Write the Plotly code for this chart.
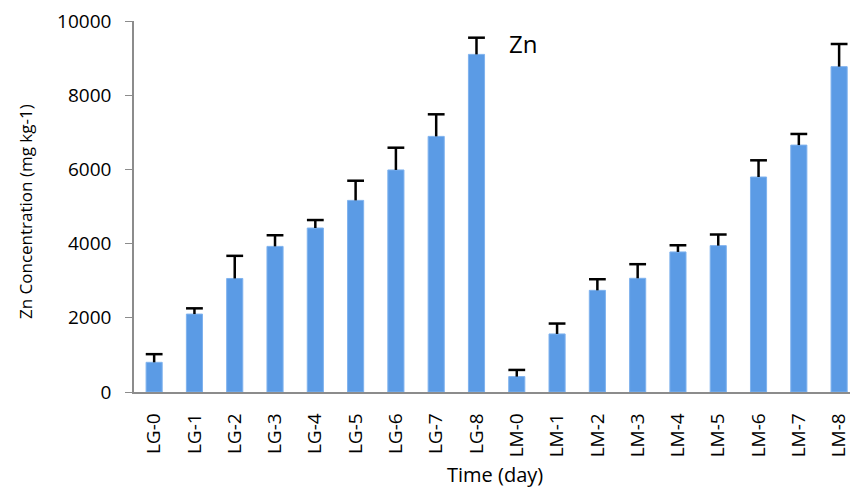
import plotly.graph_objects as go

categories = ["LG-0", "LG-1", "LG-2", "LG-3", "LG-4", "LG-5", "LG-6", "LG-7", "LG-8",
              "LM-0", "LM-1", "LM-2", "LM-3", "LM-4", "LM-5", "LM-6", "LM-7", "LM-8"]
zn_values = [800, 2100, 3060, 3925, 4420, 5165, 5985, 6890, 9100,
             415, 1565, 2740, 3065, 3775, 3945, 5795, 6655, 8770]
zn_errors = [220, 155, 610, 300, 215, 530, 600, 595, 450,
             180, 280, 300, 380, 180, 300, 450, 300, 610]
y_ticks = [0, 2000, 4000, 6000, 8000, 10000]

font_family = "Open Sans, Liberation Sans, sans-serif"

L, R, T, B = 134, 850, 21, 392
W, H = 850, 489

fig = go.Figure()
fig.add_trace(go.Bar(
    x=categories,
    y=zn_values,
    width=0.4,
    marker=dict(color="#5B9BE5", line=dict(color="#7FB2EE", width=1)),
))

# upward-only error bars: stems + caps
stem_x, stem_y = [], []
for c, v, e in zip(categories, zn_values, zn_errors):
    stem_x += [c, c, None]
    stem_y += [v, v + e, None]
fig.add_trace(go.Scatter(
    x=stem_x, y=stem_y, mode="lines",
    line=dict(color="black", width=2.5), hoverinfo="skip",
))
fig.add_trace(go.Scatter(
    x=categories, y=[v + e for v, e in zip(zn_values, zn_errors)],
    mode="markers",
    marker=dict(symbol="line-ew", size=12, line=dict(color="black", width=2.5)),
    hoverinfo="skip",
))

fig.update_layout(
    width=W, height=H,
    margin=dict(l=L, r=W - R, t=T, b=H - B),
    plot_bgcolor="white", paper_bgcolor="white",
    showlegend=False,
    font=dict(family=font_family, color="black"),
)
fig.update_xaxes(
    range=[-0.5, 17.27],
    showline=True, linecolor="#8c8c8c", linewidth=1.5,
    ticks="", tickangle=-90, ticklabelstandoff=12,
    tickfont=dict(size=19, family=font_family),
    automargin=False,
)
fig.update_yaxes(
    range=[0, 10000],
    tickvals=y_ticks, tickformat="d",
    showgrid=False, zeroline=False,
    showline=True, linecolor="#8c8c8c", linewidth=1.5,
    ticks="outside", ticklen=7, tickcolor="#8c8c8c", ticklabelstandoff=10,
    tickfont=dict(size=19, family=font_family),
    automargin=False,
)

def px_x(x):
    return (x - L) / (R - L)

def px_y(y):
    return (B - y) / (B - T)

fig.add_annotation(text="Zn", x=px_x(523), y=px_y(43), xref="paper", yref="paper",
                   showarrow=False, xanchor="center", yanchor="middle",
                   font=dict(size=24, family=font_family))
fig.add_annotation(text="Time (day)", x=px_x(495), y=px_y(474), xref="paper", yref="paper",
                   showarrow=False, xanchor="center", yanchor="middle",
                   font=dict(size=20, family=font_family))
fig.add_annotation(text="Zn Concentration (mg kg-1)", x=px_x(25), y=px_y(212),
                   xref="paper", yref="paper", textangle=-90,
                   showarrow=False, xanchor="center", yanchor="middle",
                   font=dict(size=17, family=font_family))

fig.write_html("out.html")
